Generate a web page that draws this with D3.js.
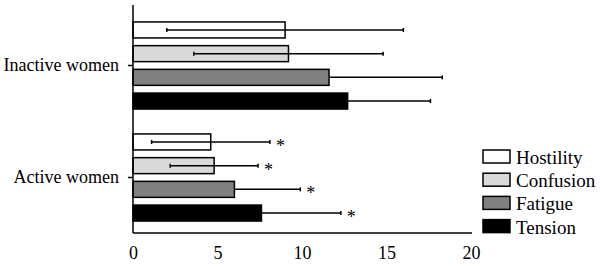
<!DOCTYPE html>
<html><head><meta charset="utf-8">
<script src="https://cdn.jsdelivr.net/npm/d3@7"></script>
<style>
body{margin:0;background:#fff;}
svg{display:block;}
svg text{font-family:"Liberation Serif","Times New Roman",serif;}
</style></head>
<body><svg id="c" width="600" height="268"></svg>
<script>
const groups = ["Inactive women", "Active women"];
const series = ["Hostility", "Confusion", "Fatigue", "Tension"];
const colors = ["#ffffff", "#d9d9d9", "#808080", "#000000"];
const means = {
  "Hostility": [9.0, 4.6],
  "Confusion": [9.2, 4.8],
  "Fatigue":   [11.6, 6.0],
  "Tension":   [12.7, 7.6]
};
const sds = {
  "Hostility": [7.0, 3.5],
  "Confusion": [5.6, 2.6],
  "Fatigue":   [6.7, 3.9],
  "Tension":   [4.9, 4.7]
};
const showLower = [true, true, false, false];
const stars = {
  "Hostility": [false, true],
  "Confusion": [false, true],
  "Fatigue":   [false, true],
  "Tension":   [false, true]
};
const xTicks = [0, 5, 10, 15, 20];

const svg = d3.select("#c");
const x = d3.scaleLinear().domain([0, 20]).range([133, 471]);
const y0 = d3.scaleBand().domain(groups).range([9.5, 233.5]).padding(0);
const y1 = d3.scaleBand().domain(series).range([0, y0.bandwidth()]).paddingInner(0.325).paddingOuter(0.525);

groups.forEach((g, gi) => {
  series.forEach((s, si) => {
    const m = means[s][gi], sd = sds[s][gi];
    const yt = y0(g) + y1(s);
    const h = y1.bandwidth();
    const cy = yt + h / 2;
    svg.append("rect")
      .attr("x", x(0)).attr("y", yt)
      .attr("width", x(m) - x(0)).attr("height", h)
      .attr("fill", colors[si]).attr("stroke", "#000").attr("stroke-width", 1.5);
    const lo = showLower[si] ? m - sd : m;
    const hi = m + sd;
    svg.append("line").attr("x1", x(lo)).attr("x2", x(hi)).attr("y1", cy).attr("y2", cy)
      .attr("stroke", "#000").attr("stroke-width", 1.5);
    svg.append("line").attr("x1", x(hi)).attr("x2", x(hi)).attr("y1", cy - 2).attr("y2", cy + 2)
      .attr("stroke", "#000").attr("stroke-width", 1.5);
    if (showLower[si]) {
      svg.append("line").attr("x1", x(lo)).attr("x2", x(lo)).attr("y1", cy - 2).attr("y2", cy + 2)
        .attr("stroke", "#000").attr("stroke-width", 1.5);
    }
    if (stars[s][gi]) {
      svg.append("text").attr("x", x(hi) + 6).attr("y", cy + 10)
        .attr("font-size", 18).attr("fill", "#000").text("*");
    }
  });
});

const yAxis = svg.append("g").attr("transform", `translate(${x(0)},0)`)
  .call(d3.axisLeft(y0).tickSize(5).tickPadding(9));
yAxis.attr("font-family", null);
yAxis.select(".domain").attr("d", `M0,5V233`).attr("stroke-width", 1.5);
yAxis.selectAll(".tick line").attr("stroke-width", 1.5);
yAxis.selectAll(".tick text").attr("font-size", 18).attr("fill", "#000");

const xAxis = svg.append("g").attr("transform", `translate(0,233)`)
  .call(d3.axisBottom(x).tickValues(xTicks).tickSize(0).tickPadding(13));
xAxis.attr("font-family", null);
xAxis.select(".domain").attr("d", `M${x(0)},0H${x(20) + 1}`).attr("stroke-width", 1.5);
xAxis.selectAll(".tick text").attr("font-size", 18).attr("fill", "#000");

const lg = svg.append("g");
series.forEach((s, i) => {
  const yy = 150 + i * 23.2;
  lg.append("rect").attr("x", 483).attr("y", yy).attr("width", 27).attr("height", 13)
    .attr("fill", colors[i]).attr("stroke", "#000").attr("stroke-width", 1.5);
  lg.append("text").attr("x", 516).attr("y", yy + 14).attr("font-size", 19).attr("fill", "#000").text(s);
});
</script></body></html>
